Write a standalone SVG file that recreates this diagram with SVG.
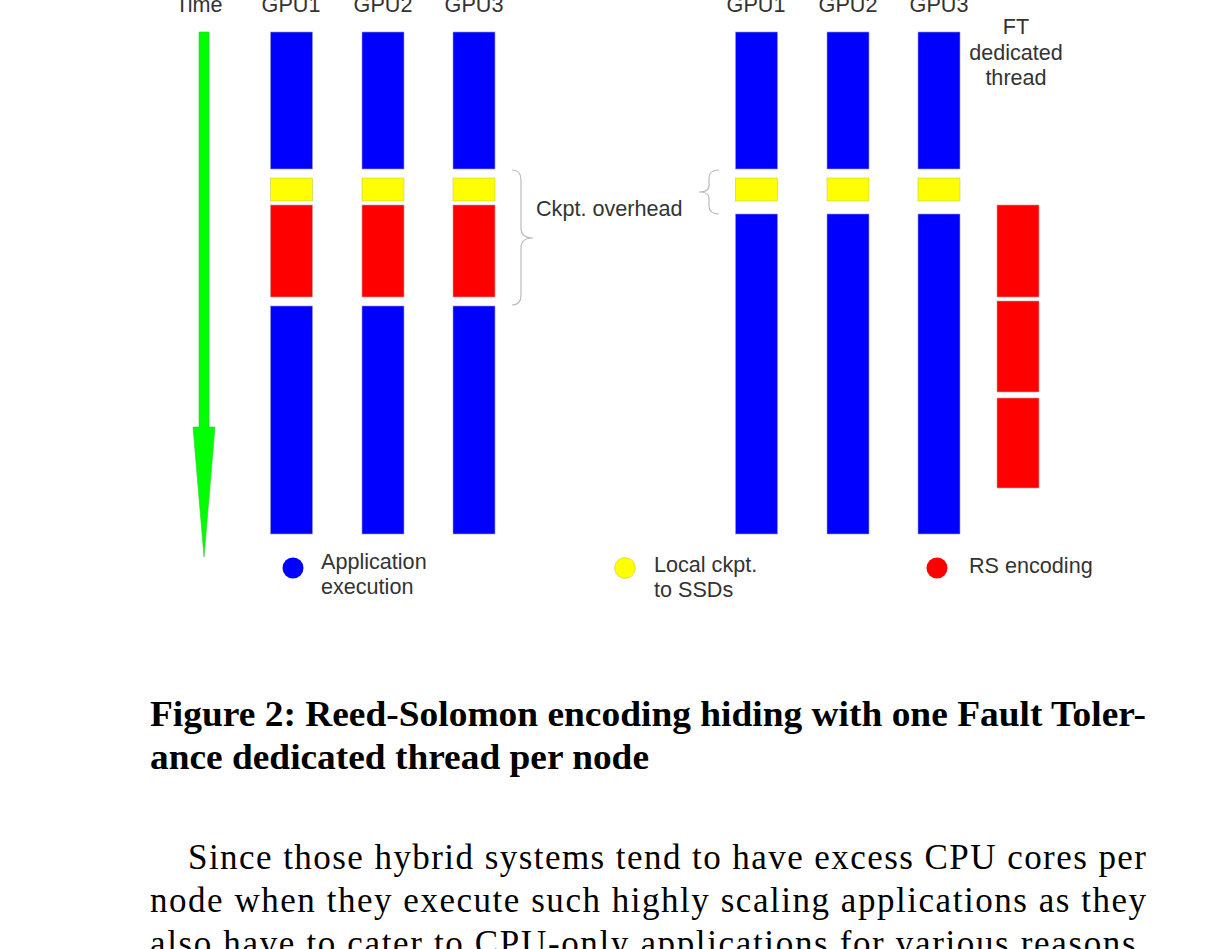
<svg xmlns="http://www.w3.org/2000/svg" width="1216" height="949" viewBox="0 0 1216 949">
<style>
.l{font-family:"Liberation Sans",Arial,sans-serif;font-size:21.6px;fill:#333}
.b{fill:#0000ff;stroke:#9999cc;stroke-width:0.6}
.y{fill:#ffff00;stroke:#c8c860;stroke-width:0.6}
.r{fill:#ff0000;stroke:#cc9999;stroke-width:0.6}
.br{fill:none;stroke:#bbb;stroke-width:1.2}
.t{font-family:"Liberation Serif","Times New Roman",serif;font-size:35px;fill:#000}
</style>
<rect width="1216" height="949" fill="#fff"/>
<g id="headers" class="l" text-anchor="middle">
<text x="199" y="12">Time</text><text x="291" y="12">GPU1</text><text x="383" y="12">GPU2</text><text x="474" y="12">GPU3</text>
<text x="756" y="12">GPU1</text><text x="848" y="12">GPU2</text><text x="939" y="12">GPU3</text>
<text x="1016" y="34">FT</text><text x="1016" y="60">dedicated</text><text x="1016" y="85">thread</text>
</g>
<g id="time-arrow"><polygon points="199,32 209,32 209,427 215,427 204,557 193,427 199,427" fill="#00ff00" stroke="#33cc33" stroke-width="0.6"/></g>
<g id="left">
<g id="l1"><rect class="b" x="270.5" y="32" width="42" height="137"/><rect class="y" x="270.5" y="178" width="42" height="23"/><rect class="r" x="270.5" y="205" width="42" height="92"/><rect class="b" x="270.5" y="306" width="42" height="228"/></g>
<g id="l2"><rect class="b" x="362" y="32" width="42" height="137"/><rect class="y" x="362" y="178" width="42" height="23"/><rect class="r" x="362" y="205" width="42" height="92"/><rect class="b" x="362" y="306" width="42" height="228"/></g>
<g id="l3"><rect class="b" x="453" y="32" width="42" height="137"/><rect class="y" x="453" y="178" width="42" height="23"/><rect class="r" x="453" y="205" width="42" height="92"/><rect class="b" x="453" y="306" width="42" height="228"/></g>
</g>
<g id="right">
<g id="r1"><rect class="b" x="735.5" y="32" width="42" height="137"/><rect class="y" x="735.5" y="178" width="42" height="23"/><rect class="b" x="735.5" y="214" width="42" height="320"/></g>
<g id="r2"><rect class="b" x="827" y="32" width="42" height="137"/><rect class="y" x="827" y="178" width="42" height="23"/><rect class="b" x="827" y="214" width="42" height="320"/></g>
<g id="r3"><rect class="b" x="918" y="32" width="42" height="137"/><rect class="y" x="918" y="178" width="42" height="23"/><rect class="b" x="918" y="214" width="42" height="320"/></g>
<g id="ft"><rect class="r" x="997" y="205" width="42" height="92"/><rect class="r" x="997" y="301" width="42" height="91"/><rect class="r" x="997" y="398" width="42" height="90"/></g>
</g>
<g id="braces">
<path class="br" d="M512,170 Q521,170 521,180 L521,228 Q521,238 533,238 Q521,238 521,248 L521,295 Q521,305 512,305"/>
<path class="br" d="M719,170 Q709,170 709,178 L709,186 Q709,192 699,192 Q709,192 709,198 L709,206 Q709,214 719,214"/>
<text class="l" x="536" y="216">Ckpt. overhead</text>
</g>
<g id="legend">
<circle cx="293" cy="568" r="10.5" fill="#0000ff"/><text class="l" x="321" y="569">Application</text><text class="l" x="321" y="594">execution</text>
<circle cx="625" cy="568" r="10.5" fill="#ffff00" stroke="#c8c860" stroke-width="0.6"/><text class="l" x="654" y="572">Local ckpt.</text><text class="l" x="654" y="597">to SSDs</text>
<circle cx="937" cy="568" r="10.5" fill="#ff0000"/><text class="l" x="969" y="573">RS encoding</text>
</g>
<g id="caption" class="t" font-weight="bold">
<text x="150" y="726" textLength="996" lengthAdjust="spacingAndGlyphs">Figure 2: Reed-Solomon encoding hiding with one Fault Toler-</text>
<text x="150" y="769" textLength="499" lengthAdjust="spacingAndGlyphs">ance dedicated thread per node</text>
</g>
<g id="body" class="t">
<text x="188" y="869" textLength="958" lengthAdjust="spacing">Since those hybrid systems tend to have excess CPU cores per</text>
<text x="150" y="912" textLength="996" lengthAdjust="spacing">node when they execute such highly scaling applications as they</text>
<text x="150" y="955" textLength="996" lengthAdjust="spacing">also have to cater to CPU-only applications for various reasons,</text>
</g>
</svg>
